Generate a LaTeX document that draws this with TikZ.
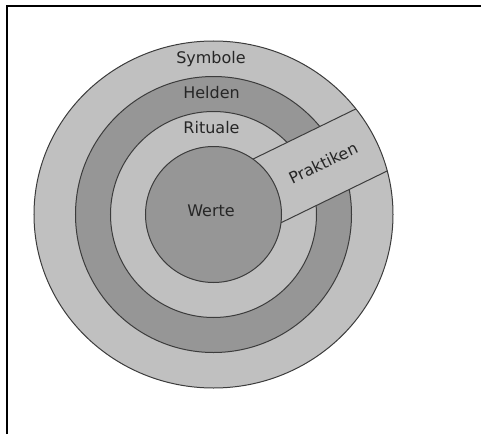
\documentclass[tikz,border=0pt]{standalone}
\usepackage{fontspec}
\setmainfont{DejaVu Sans}
\definecolor{ringlight}{RGB}{192,192,192}
\definecolor{ringdark}{RGB}{150,150,150}
\definecolor{ringline}{RGB}{60,60,60}

\begin{document}
\begin{tikzpicture}[x=1pt,y=1pt,
  ring/.style={draw=ringline,line width=1pt},
  lab/.style={font=\fontsize{16}{19}\selectfont,text=black!85,inner sep=0pt}]
  \useasboundingbox (-213.5,-219.5) rectangle (267.5,214.5);
  \draw[line width=2pt] (-206.5,-219.5) -- (-206.5,208) -- (267.5,208);
  % outer ring is a little flatter than round
  \fill[ringlight] (0,0) ellipse [x radius=179.5, y radius=173.5];
  \foreach \r/\c in {138/ringdark, 103/ringlight}
    \draw[ring,fill=\c] (0,0) circle (\r);
  % Praktiken strip, cut off at the outer ring
  \begin{scope}
    \clip (0,0) ellipse [x radius=179.5, y radius=173.5];
    \begin{scope}[rotate=26]
      \fill[ringlight] (0,-37) rectangle (200,32.5);
      \draw[ring] (0,32.5) -- (200,32.5) (0,-37) -- (200,-37);
      \node[lab,rotate=26] (prak) at (121,-2) {Praktiken};
    \end{scope}
  \end{scope}
  \draw[ring,fill=ringdark] (0,0) circle (68);
  \draw[ring] (0,0) ellipse [x radius=179.5, y radius=173.5];
  \node[lab,anchor=base] (sym) at (-2.5,151) {Symbole};
  \node[lab,anchor=base] (held) at (-2,116.5) {Helden};
  \node[lab,anchor=base] (rit) at (-2,81.5) {Rituale};
  \node[lab,anchor=base] (wert) at (-2.5,-2.2) {Werte};
\end{tikzpicture}
\end{document}
